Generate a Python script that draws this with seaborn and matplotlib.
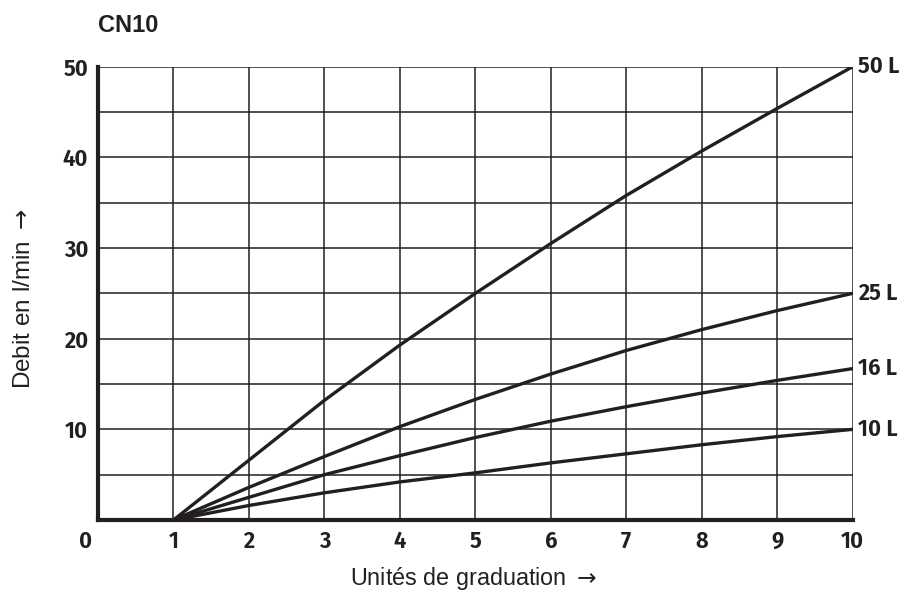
import matplotlib
matplotlib.use("Agg")
import matplotlib.pyplot as plt
import matplotlib.transforms as mtransforms
import seaborn as sns
import pandas as pd

# ---- data ----
units = [1, 2, 3, 4, 5, 6, 7, 8, 9, 10]
series_names = ["50 L", "25 L", "16 L", "10 L"]
flow_50 = [0, 6.6, 13.2, 19.3, 25.0, 30.5, 35.8, 40.7, 45.4, 50.0]
flow_25 = [0, 3.6, 7.0, 10.3, 13.3, 16.1, 18.7, 21.0, 23.1, 25.0]
flow_16 = [0, 2.5, 5.0, 7.1, 9.1, 10.9, 12.5, 14.0, 15.4, 16.7]
flow_10 = [0, 1.6, 3.0, 4.2, 5.2, 6.3, 7.3, 8.3, 9.2, 10.0]
x_ticks = [0, 1, 2, 3, 4, 5, 6, 7, 8, 9, 10]
y_ticks = [10, 20, 30, 40, 50]
title = "CN10"
x_label = "Unités de graduation $\\rightarrow$"
y_label = "Debit en l/min $\\rightarrow$"

all_series = [flow_50, flow_25, flow_16, flow_10]
df = pd.concat(
    [pd.DataFrame({"units": units, "flow": vals, "series": name})
     for name, vals in zip(series_names, all_series)],
    ignore_index=True,
)

sns.set_theme(style="white")
plt.rcParams["font.family"] = ["Liberation Sans", "DejaVu Sans"]
plt.rcParams["mathtext.fontset"] = "dejavusans"

INK = "#231f20"
W, H = 904, 593
fig = plt.figure(figsize=(W / 100, H / 100), dpi=100)
ax = fig.add_axes([98 / W, 1 - 520 / H, (852.7 - 98) / W, (520 - 66.7) / H])

sns.lineplot(data=df, x="units", y="flow", hue="series", palette=[INK] * 4,
             linewidth=2.4, legend=False, ax=ax, solid_capstyle="round")

ax.set_xlim(0, 10)
ax.set_ylim(0, 50)
ax.set_xticks(x_ticks)
ax.set_yticks(y_ticks)
ax.set_yticks([5, 15, 25, 35, 45], minor=True)
ax.grid(True, which="both", color=INK, linewidth=1.1)
ax.set_axisbelow(True)

cond = ["Fira Sans Condensed", "DejaVu Sans"]
TW = 600
TS = 17.5
ax.set_xticklabels([str(v) for v in x_ticks], fontfamily=cond,
                   fontweight=TW, fontsize=TS, color=INK)
ax.set_yticklabels([str(v) for v in y_ticks], fontfamily=cond,
                   fontweight=TW, fontsize=TS, color=INK)
ax.tick_params(axis="both", which="both", length=0, pad=7)
# shift the "0" label to the left as in the reference
lbl0 = ax.get_xticklabels()[0]
lbl0.set_transform(lbl0.get_transform() +
                   mtransforms.ScaledTranslation(-12 / 100, 0, fig.dpi_scale_trans))

ax.set_xlabel("")
ax.set_ylabel("")

for side in ["top", "right"]:
    ax.spines[side].set_visible(False)
for side in ["left", "bottom"]:
    ax.spines[side].set_linewidth(3.0)
    ax.spines[side].set_color(INK)

# right-hand series labels
for name, vals in zip(series_names, all_series):
    ax.annotate(name, xy=(units[-1], vals[-1]), xytext=(4, 0),
                textcoords="offset points", ha="left", va="center",
                fontfamily=cond, fontweight=TW, fontsize=TS, color=INK,
                annotation_clip=False)

fig.text(98 / W, 1 - 32 / H, title, ha="left", va="baseline",
         fontsize=17, fontweight="bold", color=INK)
fig.text(474 / W, 1 - 579 / H, x_label, ha="center", va="center",
         fontsize=16.8, color=INK)
fig.text(24 / W, 1 - 299 / H, y_label, ha="center", va="center",
         rotation=90, fontsize=17.5, color=INK)

fig.savefig("out.png", dpi=100)
